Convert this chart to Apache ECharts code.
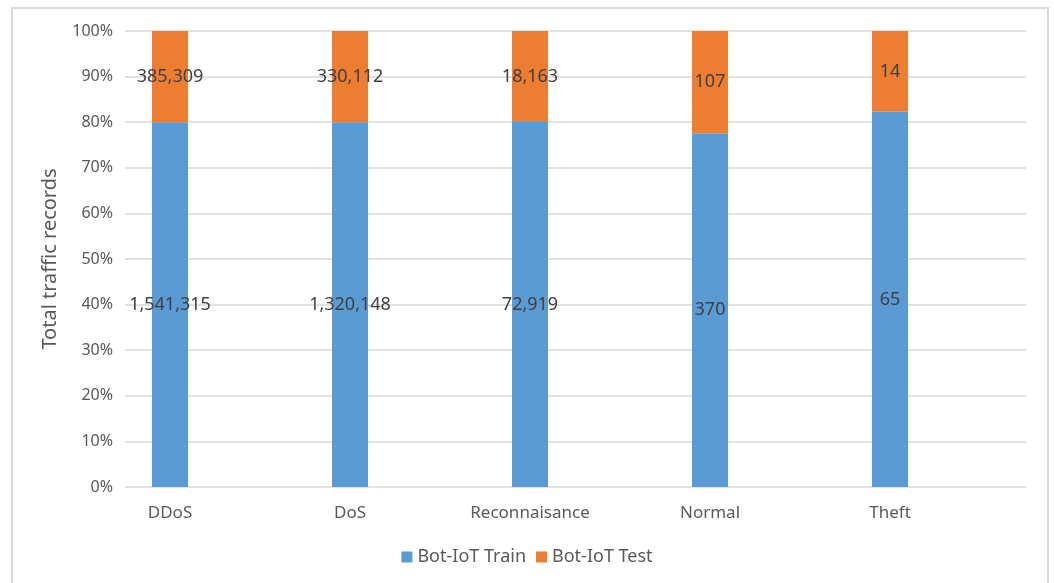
<!DOCTYPE html>
<html>
<head>
<meta charset="utf-8">
<script src="https://cdn.jsdelivr.net/npm/echarts@6/dist/echarts.min.js"></script>
<style>
  html, body { margin: 0; padding: 0; background: #ffffff; }
  #chart { width: 1054px; height: 583px; }
</style>
</head>
<body>
<div id="chart"></div>
<script>
// Record counts per traffic class in the Bot-IoT split
const categories = ['DDoS', 'DoS', 'Reconnaisance', 'Normal', 'Theft'];
const trainCounts = [1541315, 1320148, 72919, 370, 65];
const testCounts = [385309, 330112, 18163, 107, 14];
const seriesNames = ['Bot-IoT Train', 'Bot-IoT Test'];
const yTicks = [0, 10, 20, 30, 40, 50, 60, 70, 80, 90, 100];

const FONT = '"Noto Sans", sans-serif';

// Share of each class total, in percent
const totals = trainCounts.map((v, i) => v + testCounts[i]);
const trainPct = trainCounts.map((v, i) => v / totals[i] * 100);
const testPct = testCounts.map((v, i) => v / totals[i] * 100);

const fmt = n => n.toLocaleString('en-US');

const chart = echarts.init(document.getElementById('chart'), null, { renderer: 'canvas' });

const labelStyle = {
  show: true,
  position: 'inside',
  color: '#404040',
  fontFamily: FONT,
  fontSize: 18
};

chart.setOption({
  animation: false,
  backgroundColor: '#ffffff',
  graphic: [{
    type: 'rect',
    shape: { x: 12, y: 8, width: 1036, height: 600 },
    style: { fill: 'none', stroke: '#d9d9d9', lineWidth: 2 },
    silent: true,
    z: 100
  }],
  legend: {
    data: seriesNames,
    left: 'center',
    top: 543,
    itemWidth: 11,
    itemHeight: 11,
    itemGap: 10,
    icon: 'rect',
    textStyle: { color: '#595959', fontFamily: FONT, fontSize: 18 }
  },
  grid: [
    // percentage scale and horizontal gridlines
    { left: 125, right: 28, top: 31, bottom: 96 },
    // the stacked bars
    { left: 80, width: 900, top: 31, bottom: 96 }
  ],
  xAxis: [
    { type: 'value', gridIndex: 0, show: false, min: 0, max: 1 },
    {
      type: 'category',
      gridIndex: 1,
      data: categories,
      axisLine: { show: false },
      axisTick: { show: false },
      axisLabel: { color: '#595959', fontFamily: FONT, fontSize: 17, margin: 18 }
    }
  ],
  yAxis: [
    {
      type: 'value',
      gridIndex: 0,
      min: yTicks[0],
      max: yTicks[yTicks.length - 1],
      interval: 10,
      name: 'Total traffic records',
      nameLocation: 'middle',
      nameGap: 65,
      nameRotate: 90,
      nameTextStyle: { color: '#595959', fontFamily: FONT, fontSize: 20 },
      axisLine: { show: false },
      axisTick: { show: false },
      axisLabel: { formatter: '{value}%', color: '#595959', fontFamily: FONT, fontSize: 16, margin: 12 },
      splitLine: { lineStyle: { color: '#d9d9d9', width: 1.5 } }
    },
    {
      type: 'value',
      gridIndex: 1,
      min: 0,
      max: 100,
      show: false,
      splitLine: { show: false }
    }
  ],
  series: [
    {
      name: seriesNames[0],
      type: 'bar',
      xAxisIndex: 1,
      yAxisIndex: 1,
      stack: 'share',
      barWidth: 36,
      itemStyle: { color: '#5b9bd5' },
      label: Object.assign({}, labelStyle, { formatter: p => fmt(trainCounts[p.dataIndex]) }),
      data: trainPct
    },
    {
      name: seriesNames[1],
      type: 'bar',
      xAxisIndex: 1,
      yAxisIndex: 1,
      stack: 'share',
      barWidth: 36,
      itemStyle: { color: '#ed7d31' },
      label: Object.assign({}, labelStyle, { formatter: p => fmt(testCounts[p.dataIndex]) }),
      data: testPct
    }
  ]
});
</script>
</body>
</html>
